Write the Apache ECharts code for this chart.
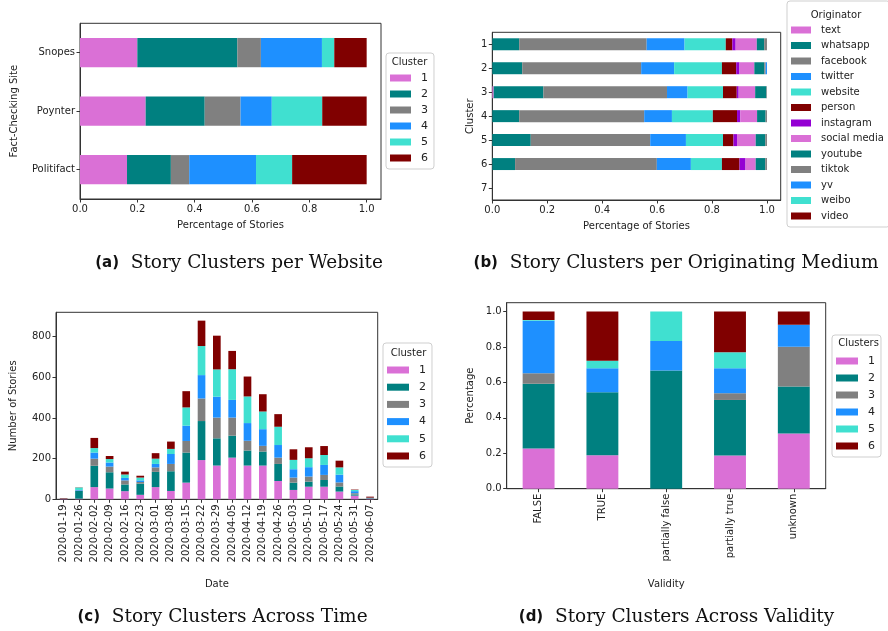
<!DOCTYPE html>
<html>
<head>
<meta charset="utf-8">
<script src="https://cdn.jsdelivr.net/npm/echarts@6/dist/echarts.min.js"></script>
<style>
html,body{margin:0;padding:0;background:#fff;}
#c{width:888px;height:631px;}
</style>
</head>
<body>
<div id="c"></div>
<script>
// ---------- DATA ----------
const clusterNames = ['1', '2', '3', '4', '5', '6'];
const clusterColors = ['#DA70D6', '#008080', '#808080', '#1E90FF', '#40E0D0', '#800000'];

// (a) share of each cluster per fact-checking site
const sites = ['Snopes', 'Poynter', 'Politifact'];
const siteC1 = [0.200, 0.229, 0.164];
const siteC2 = [0.349, 0.206, 0.153];
const siteC3 = [0.082, 0.125, 0.064];
const siteC4 = [0.213, 0.109, 0.233];
const siteC5 = [0.043, 0.176, 0.126];
const siteC6 = [0.113, 0.155, 0.260];

// (b) share of each originating medium per cluster
const clustersB = ['1', '2', '3', '4', '5', '6', '7'];
const originators = ['text', 'whatsapp', 'facebook', 'twitter', 'website', 'person', 'instagram',
  'social media', 'youtube', 'tiktok', 'yv', 'weibo', 'video'];
const originatorColors = ['#DA70D6', '#008080', '#808080', '#1E90FF', '#40E0D0', '#800000', '#9400D3',
  '#DA70D6', '#008080', '#808080', '#1E90FF', '#40E0D0', '#800000'];
const origText        = [0, 0, 0.005, 0, 0, 0, 0];
const origWhatsapp    = [0.098, 0.109, 0.181, 0.098, 0.140, 0.083, 0];
const origFacebook    = [0.464, 0.433, 0.450, 0.455, 0.435, 0.516, 0];
const origTwitter     = [0.138, 0.120, 0.075, 0.101, 0.130, 0.124, 0];
const origWebsite     = [0.150, 0.174, 0.129, 0.149, 0.135, 0.113, 0];
const origPerson      = [0.024, 0.052, 0.050, 0.088, 0.038, 0.064, 0];
const origInstagram   = [0.012, 0.012, 0.007, 0.012, 0.013, 0.022, 0];
const origSocialMedia = [0.077, 0.054, 0.060, 0.061, 0.068, 0.037, 0];
const origYoutube     = [0.027, 0.036, 0.041, 0.031, 0.035, 0.035, 0];
const origTiktok      = [0.010, 0.005, 0.002, 0.005, 0.006, 0.006, 0];
const origYv          = [0, 0.005, 0, 0, 0, 0, 0];
const origWeibo       = [0, 0, 0, 0, 0, 0, 0];
const origVideo       = [0, 0, 0, 0, 0, 0, 0];

// (c) number of stories per week per cluster
const dates = ['2020-01-19', '2020-01-26', '2020-02-02', '2020-02-09', '2020-02-16', '2020-02-23',
  '2020-03-01', '2020-03-08', '2020-03-15', '2020-03-22', '2020-03-29', '2020-04-05', '2020-04-12',
  '2020-04-19', '2020-04-26', '2020-05-03', '2020-05-10', '2020-05-17', '2020-05-24', '2020-05-31',
  '2020-06-07'];
const timeC1 = [2, 3, 60, 53, 40, 22, 60, 41, 82, 193, 166, 205, 166, 166, 90, 46, 62, 62, 38, 18, 3];
const timeC2 = [1, 38, 105, 80, 33, 55, 75, 97, 148, 192, 134, 108, 74, 69, 84, 36, 25, 33, 25, 6, 2];
const timeC3 = [0, 2, 35, 28, 20, 8, 22, 36, 57, 111, 102, 89, 48, 28, 31, 25, 25, 25, 20, 6, 1];
const timeC4 = [0, 3, 30, 20, 12, 8, 17, 49, 75, 115, 103, 87, 87, 82, 62, 41, 46, 49, 38, 10, 1];
const timeC5 = [0, 12, 22, 17, 17, 14, 26, 25, 90, 143, 134, 151, 131, 87, 90, 46, 44, 49, 36, 6, 1];
const timeC6 = [2, 1, 50, 15, 14, 9, 27, 36, 80, 125, 166, 90, 98, 85, 62, 52, 54, 44, 33, 2, 5];

// (d) share of each cluster per validity class
const validity = ['FALSE', 'TRUE', 'partially false', 'partially true', 'unknown'];
const valC1 = [0.227, 0.189, 0, 0.188, 0.311];
const valC2 = [0.365, 0.356, 0.667, 0.313, 0.266];
const valC3 = [0.060, 0, 0, 0.038, 0.224];
const valC4 = [0.296, 0.135, 0.167, 0.141, 0.124];
const valC5 = [0.005, 0.043, 0.166, 0.090, 0];
const valC6 = [0.047, 0.277, 0, 0.230, 0.075];

// tick labels
const shareTicks = [0, 0.2, 0.4, 0.6, 0.8, 1.0];
const countTicks = [0, 200, 400, 600, 800];

// ---------- CHART ----------
const siteVals = [siteC1, siteC2, siteC3, siteC4, siteC5, siteC6];
const origVals = [origText, origWhatsapp, origFacebook, origTwitter, origWebsite, origPerson, origInstagram,
  origSocialMedia, origYoutube, origTiktok, origYv, origWeibo, origVideo];
const timeVals = [timeC1, timeC2, timeC3, timeC4, timeC5, timeC6];
const valVals = [valC1, valC2, valC3, valC4, valC5, valC6];

const TXT = '#222';
const LINE = '#333';
const FONT = 'DejaVu Sans';

function valueAxis(extra) {
  return Object.assign({
    type: 'value',
    axisLine: { show: true, lineStyle: { color: LINE } },
    axisTick: { show: true, length: 3.5, lineStyle: { color: LINE } },
    axisLabel: { color: TXT, fontSize: 10, fontFamily: FONT, margin: 5 },
    splitLine: { show: false },
    nameLocation: 'middle',
    nameTextStyle: { color: TXT, fontSize: 10, fontFamily: FONT }
  }, extra);
}
function catAxis(extra) {
  return Object.assign({
    type: 'category',
    axisLine: { show: true, lineStyle: { color: LINE } },
    axisTick: { show: true, alignWithLabel: true, length: 3.5, lineStyle: { color: LINE } },
    axisLabel: { color: TXT, fontSize: 10, fontFamily: FONT, margin: 5, interval: 0 },
    splitLine: { show: false },
    nameLocation: 'middle',
    nameTextStyle: { color: TXT, fontSize: 10, fontFamily: FONT }
  }, extra);
}
const fmt1 = v => Number(v).toFixed(1);

const grids = [
  { left: 80, top: 23.3, width: 301, height: 175.7 },
  { left: 492.3, top: 32.3, width: 288.4, height: 167.7 },
  { left: 56, top: 312.3, width: 321.7, height: 187 },
  { left: 506.7, top: 302.7, width: 319, height: 186 }
].map(g => Object.assign(g, { show: true, borderColor: LINE, borderWidth: 1, backgroundColor: 'transparent', containLabel: false }));

const xAxes = [
  valueAxis({ gridIndex: 0, min: 0, max: 1.05, interval: 0.2, name: 'Percentage of Stories', nameGap: 21,
    axisLabel: { color: TXT, fontSize: 10, fontFamily: FONT, margin: 5, formatter: fmt1, customValues: shareTicks },
    axisTick: { show: true, length: 3.5, lineStyle: { color: LINE }, customValues: shareTicks } }),
  valueAxis({ gridIndex: 1, min: 0, max: 1.05, interval: 0.2, name: 'Percentage of Stories', nameGap: 21,
    axisLabel: { color: TXT, fontSize: 10, fontFamily: FONT, margin: 5, formatter: fmt1, customValues: shareTicks },
    axisTick: { show: true, length: 3.5, lineStyle: { color: LINE }, customValues: shareTicks } }),
  catAxis({ gridIndex: 2, data: dates, name: 'Date', nameGap: 80,
    axisLabel: { color: TXT, fontSize: 10, fontFamily: FONT, margin: 5, interval: 0, rotate: 90 } }),
  catAxis({ gridIndex: 3, data: validity, name: 'Validity', nameGap: 91,
    axisLabel: { color: TXT, fontSize: 10, fontFamily: FONT, margin: 5, interval: 0, rotate: 90 } })
];
const yAxes = [
  catAxis({ gridIndex: 0, data: sites, inverse: true, name: 'Fact-Checking Site', nameGap: 61 }),
  catAxis({ gridIndex: 1, data: clustersB, inverse: true, name: 'Cluster', nameGap: 17 }),
  valueAxis({ gridIndex: 2, min: 0, max: 920, interval: 200, name: 'Number of Stories', nameGap: 38,
    axisLabel: { color: TXT, fontSize: 10, fontFamily: FONT, margin: 5, customValues: countTicks },
    axisTick: { show: true, length: 3.5, lineStyle: { color: LINE }, customValues: countTicks } }),
  valueAxis({ gridIndex: 3, min: 0, max: 1.05, interval: 0.2, name: 'Percentage', nameGap: 31,
    axisLabel: { color: TXT, fontSize: 10, fontFamily: FONT, margin: 5, formatter: fmt1, customValues: shareTicks },
    axisTick: { show: true, length: 3.5, lineStyle: { color: LINE }, customValues: shareTicks } })
];

const series = [];
clusterNames.forEach((n, i) => series.push({ type: 'bar', name: n, stack: 'a', xAxisIndex: 0, yAxisIndex: 0,
  barWidth: '50%', data: siteVals[i], itemStyle: { color: clusterColors[i] } }));
originators.forEach((n, i) => series.push({ type: 'bar', name: n, stack: 'b', xAxisIndex: 1, yAxisIndex: 1,
  barWidth: '50%', data: origVals[i], itemStyle: { color: originatorColors[i] } }));
clusterNames.forEach((n, i) => series.push({ type: 'bar', name: n, stack: 'c', xAxisIndex: 2, yAxisIndex: 2,
  barWidth: '50%', data: timeVals[i], itemStyle: { color: clusterColors[i] } }));
clusterNames.forEach((n, i) => series.push({ type: 'bar', name: n, stack: 'd', xAxisIndex: 3, yAxisIndex: 3,
  barWidth: '50%', data: valVals[i], itemStyle: { color: clusterColors[i] } }));

function legend(left, top, data, padTop, gap, iw, fs) {
  return {
    orient: 'vertical', left: left, top: top, data: data,
    icon: 'rect', itemWidth: iw, itemHeight: 7, itemGap: gap,
    padding: [padTop, 6, 5, 4],
    borderColor: '#cfcfcf', borderWidth: 1, borderRadius: 3, backgroundColor: '#fff',
    textStyle: { color: TXT, fontSize: fs, fontFamily: FONT, lineHeight: 12, padding: [0, 0, 0, 5] },
    selectedMode: false
  };
}
const legends = [
  legend(386, 53, clusterNames, 19, 4, 21, 11),
  legend(787, 1, originators, 23, 3.5, 20, 10),
  legend(383, 343, clusterNames, 21, 5.2, 22, 11),
  legend(832, 335, clusterNames, 20, 5, 22, 11)
];

function gtext(x, y, text, size) {
  return { type: 'text', x: x, y: y, z: 100,
    style: { text: text, fill: TXT, fontSize: size || 10, fontFamily: FONT, align: 'center', verticalAlign: 'middle' } };
}
function caption(x, y, label, text) {
  return { type: 'text', x: x, y: y, z: 100,
    style: { text: '{b|' + label + '}  ' + text, fill: '#111', fontSize: 18.5, fontFamily: 'DejaVu Serif',
      align: 'center', verticalAlign: 'middle',
      rich: { b: { fontFamily: FONT, fontWeight: 'bold', fontSize: 15, fill: '#111' } } } };
}

const chart = echarts.init(document.getElementById('c'), null, { renderer: 'canvas' });
chart.setOption({
  animation: false,
  backgroundColor: '#fff',
  grid: grids,
  xAxis: xAxes,
  yAxis: yAxes,
  legend: legends,
  series: series,
  graphic: [
    gtext(409.5, 62, 'Cluster'),
    gtext(836, 15, 'Originator'),
    gtext(408.5, 353, 'Cluster'),
    gtext(858.5, 343.5, 'Clusters'),
    caption(239, 263, '(a)', 'Story Clusters per Website'),
    caption(676, 263, '(b)', 'Story Clusters per Originating Medium'),
    caption(222.5, 617, '(c)', 'Story Clusters Across Time'),
    caption(676.5, 617, '(d)', 'Story Clusters Across Validity')
  ]
});
</script>
</body>
</html>
